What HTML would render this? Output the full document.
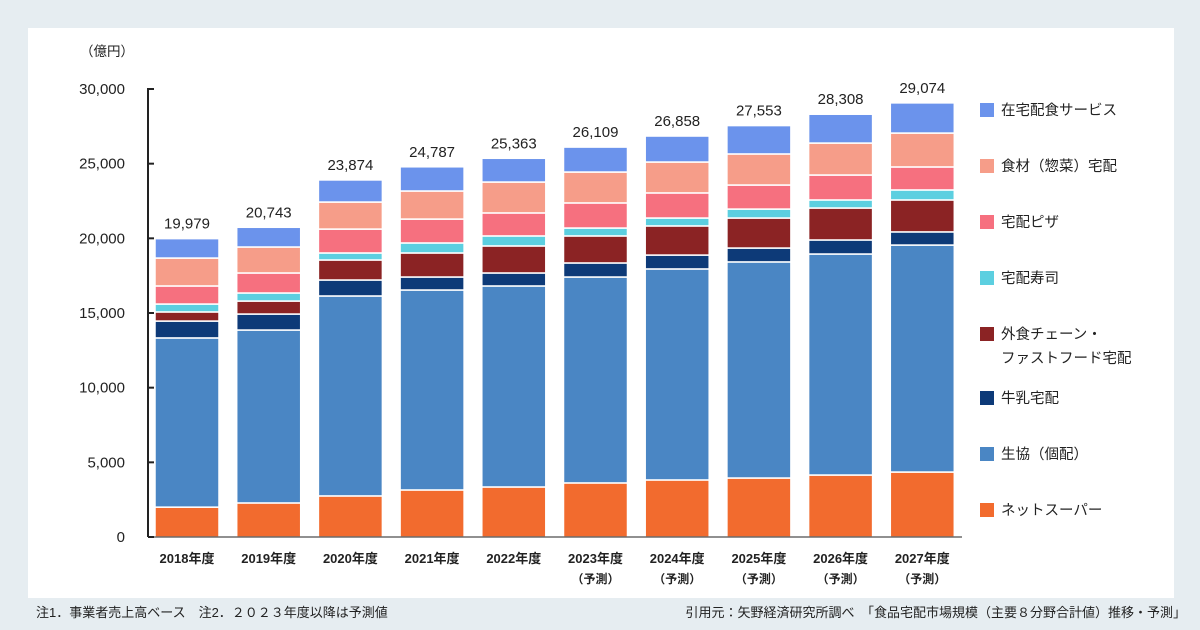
<!DOCTYPE html>
<html><head><meta charset="utf-8"><style>
body{margin:0;width:1200px;height:630px;background:#e6edf1;overflow:hidden;font-family:"Liberation Sans","Noto Sans CJK JP",sans-serif;}
#panel{position:absolute;left:28px;top:28px;width:1146px;height:570px;background:#fff;}
svg{position:absolute;left:0;top:0;}
text{font-family:"Liberation Sans","Noto Sans CJK JP",sans-serif;fill:#222;}
</style></head><body>
<div id="panel"></div>
<svg id="chart" width="1200" height="630"></svg>
<script>
const categories=["2018年度","2019年度","2020年度","2021年度","2022年度","2023年度","2024年度","2025年度","2026年度","2027年度"];
const forecast=[false,false,false,false,false,true,true,true,true,true];
const totals=["19,979","20,743","23,874","24,787","25,363","26,109","26,858","27,553","28,308","29,074"];
const seriesNames=["ネットスーパー","生協（個配）","牛乳宅配","外食チェーン・ファストフード宅配","宅配寿司","宅配ピザ","食材（惣菜）宅配","在宅配食サービス"];
const netSuper=[2000,2280,2750,3150,3350,3620,3820,3950,4150,4350];
const coop=[11330,11580,13390,13390,13460,13790,14130,14470,14800,15200];
const milk=[1130,1070,1070,870,870,940,930,930,940,880];
const fastFood=[610,870,1340,1610,1810,1810,1950,2010,2140,2140];
const sushi=[530,540,470,670,670,530,530,600,540,670];
const pizza=[1210,1340,1600,1600,1540,1680,1680,1610,1670,1540];
const shokuzai=[1870,1740,1810,1880,2070,2070,2070,2080,2140,2270];
const service=[1300,1320,1480,1620,1590,1670,1740,1900,1930,2020];
const yTicks=[0,5000,10000,15000,20000,25000,30000];
const yTickLabels=["0","5,000","10,000","15,000","20,000","25,000","30,000"];

const series=[netSuper,coop,milk,fastFood,sushi,pizza,shokuzai,service];
const colors=["#f26b2e","#4a86c4","#0d3a78","#8b2324","#5ccfe0","#f6707f","#f69d89","#6b93ec"];
const names=["net-super","coop","milk","fast-food","sushi","pizza","shokuzai","service"];
const NS="http://www.w3.org/2000/svg";
const svg=document.getElementById('chart');
const y0=537,yTop=89,vMax=30000;
function yScale(v){return y0-(v/vMax)*(y0-yTop);}
function xCenter(i){return 187+i*81.7;}
const bw=64;
function mk(tag,attrs,parent){const e=document.createElementNS(NS,tag);for(const k in attrs)e.setAttribute(k,attrs[k]);(parent||svg).appendChild(e);return e;}

const ax=mk('line',{x1:148,y1:yTop-1,x2:148,y2:y0,stroke:'#222','stroke-width':2});


yTicks.forEach((t,i)=>{
  const tk=mk('line',{x1:148,y1:yScale(t),x2:154,y2:yScale(t),stroke:'#222','stroke-width':2});
  
  
  const tx=mk('text',{x:125,y:yScale(t)+5,'text-anchor':'end','font-size':15});
  tx.textContent=yTickLabels[i];
  
  
});
const unit=mk('text',{x:80,y:56,'font-size':13.5});
unit.textContent='（億円）';



categories.forEach((c,i)=>{
  let acc=0;const cx=xCenter(i);
  series.forEach((s,k)=>{
    const yA=yScale(acc),yB=yScale(acc+s[i]);
    const r=mk('rect',{x:cx-bw/2,y:yB,width:bw,height:yA-yB,fill:colors[k],stroke:'#fff','stroke-width':1.5});
    
    
    acc+=s[i];
  });
  const tl=mk('text',{x:cx,y:yScale(acc)-10,'text-anchor':'middle','font-size':15});
  tl.textContent=totals[i];
  
  
  const xl=mk('text',{x:cx,y:563,'text-anchor':'middle','font-size':13,'font-weight':'bold'});
  xl.textContent=c;
  
  
  if(forecast[i]){
    const fl=mk('text',{x:cx,y:583,'text-anchor':'middle','font-size':12,'font-weight':'bold'});
    fl.textContent='（予測）';
    
    
  }
});
const xa=mk('line',{x1:148,y1:y0,x2:962,y2:y0,stroke:'#222','stroke-width':1});



const legY=[110,166,222,278,334,398,454,510];
for(let j=0;j<8;j++){
  const k=7-j;
  const sq=mk('rect',{x:980,y:legY[j]-7,width:14,height:14,fill:colors[k]});
  
  
  const t=mk('text',{x:1001,y:legY[j]+5,'font-size':14.5});
  if(k===3){t.textContent='外食チェーン・';
    const t2=mk('text',{x:1001,y:legY[j]+29,'font-size':14.5});t2.textContent='ファストフード宅配';
    
    
  } else t.textContent=seriesNames[k];
  
  
}
const n1=mk('text',{x:36,y:617,'font-size':13});
n1.textContent='注1．事業者売上高ベース　注2．２０２３年度以降は予測値';


const n2=mk('text',{x:1186,y:617,'font-size':13,'text-anchor':'end'});
n2.textContent='引用元：矢野経済研究所調べ　「食品宅配市場規模（主要８分野合計値）推移・予測」';


</script>
</body></html>
